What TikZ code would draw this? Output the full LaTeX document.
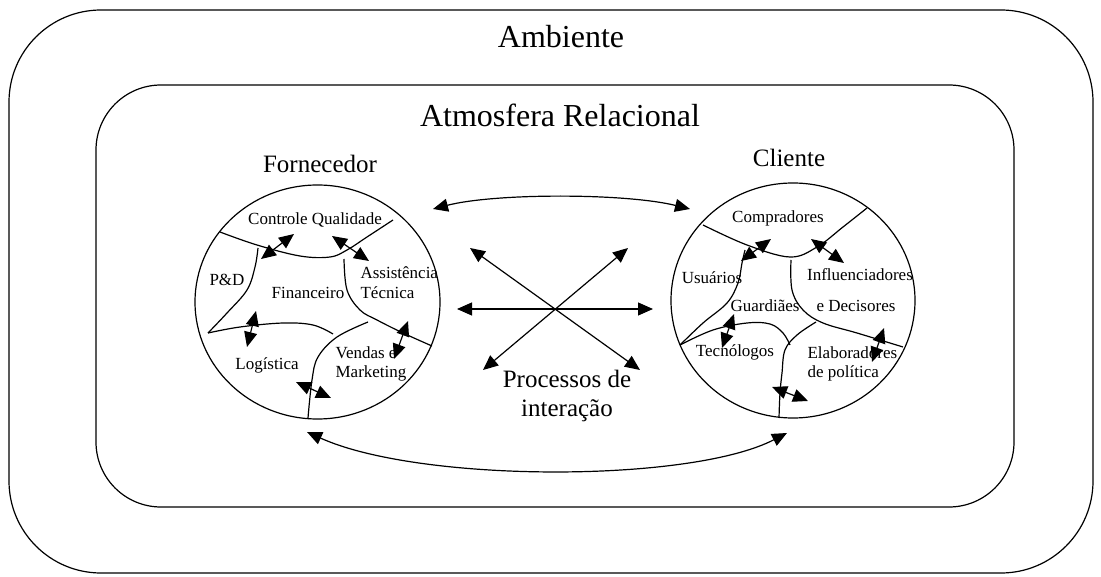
\documentclass[tikz,border=0pt]{standalone}
\usepackage{fontspec}
\setmainfont{Liberation Serif}
\usetikzlibrary{arrows.meta}
\begin{document}
\begin{tikzpicture}[x=1pt,y=-1pt,line width=1.2pt,
  dbl/.style={{Triangle[length=15pt,width=13pt]}-{Triangle[length=15pt,width=13pt]}},
  bigtext/.style={font=\fontsize{32}{36}\selectfont,inner sep=0pt},
  midtext/.style={font=\fontsize{25}{29}\selectfont,inner sep=0pt,align=center},
  smalltext/.style={font=\fontsize{17}{20}\selectfont,inner sep=0pt},
  divider/.style={line width=1.2pt}]
\useasboundingbox (0,0) rectangle (1101,577);

% environment and relational atmosphere frames
\draw[rounded corners=92pt] (9,10) rectangle (1093,573);
\draw[rounded corners=65pt] (96,85) rectangle (1014,507);
\node[bigtext] (amb) at (561,37) {Ambiente};
\node[bigtext] (atm) at (560,115) {Atmosfera Relacional};

% supplier and client
\node[midtext] (forn) at (320,164) {Fornecedor};
\node[midtext] (cli) at (789,158) {Cliente};
\draw (317.5,302) ellipse [x radius=122.5pt, y radius=117pt];
\draw (793,300.5) ellipse [x radius=122pt, y radius=117.5pt];

% supplier departments
\draw[divider] plot[smooth,tension=0.6] coordinates {(220,232) (257,245) (300,256) (330,257) (347,250) (367,237) (393,220)};
\draw[divider] plot[smooth,tension=0.6] coordinates {(258,248) (255,267) (247,290) (227,313) (208,333)};
\draw[divider] plot[smooth,tension=0.6] coordinates {(208,333) (240,327) (283,323) (313,325) (333,334)};
\draw[divider] plot[smooth,tension=0.6] coordinates {(344,259) (347,290) (360,310) (377,320) (403,333) (432,346)};
\draw[divider] plot[smooth,tension=0.6] coordinates {(368,322) (337,337) (318,357) (312,380) (308,418)};

\node[smalltext] (cq) at (315,220) {Controle Qualidade};
\node[smalltext] (pd) at (227,280) {P\&D};
\node[smalltext] (fin) at (308,293) {Financeiro};
\node[smalltext,anchor=west] (ast1) at (360,273) {Assistência};
\node[smalltext,anchor=west] (ast2) at (360,293) {Técnica};
\node[smalltext] (log) at (267,365) {Logística};
\node[smalltext,anchor=west] (ven1) at (335,353) {Vendas e};
\node[smalltext,anchor=west] (ven2) at (335,373) {Marketing};

\coordinate (f1a) at (261,259); \coordinate (f1b) at (294,234);
\coordinate (f2a) at (332,236); \coordinate (f2b) at (369,261);
\coordinate (f3a) at (256,311); \coordinate (f3b) at (247,347);
\coordinate (f4a) at (408,321); \coordinate (f4b) at (394,359);
\coordinate (f5a) at (296,382); \coordinate (f5b) at (331,398);
\foreach \p in {f1,f2,f3,f4,f5} \draw[dbl] (\p a) -- (\p b);

% client roles
\draw[divider] plot[smooth,tension=0.6] coordinates {(703,225) (747,245) (790,257) (817,247) (843,227) (867,208)};
\draw[divider] plot[smooth,tension=0.6] coordinates {(680,345) (703,323) (727,303) (738,283) (742,263) (745,250)};
\draw[divider] plot[smooth,tension=0.6] coordinates {(680,345) (713,330) (747,323) (770,324) (783,333) (790,345)};
\draw[divider] plot[smooth,tension=0.6] coordinates {(791,260) (792,290) (803,310) (823,323) (857,333) (903,347)};
\draw[divider] plot[smooth,tension=0.6] coordinates {(816,322) (797,335) (785,350) (782,373) (780,393) (779,418)};

\node[smalltext] (com) at (778,218) {Compradores};
\node[smalltext] (usu) at (712,278) {Usuários};
\node[smalltext] (inf) at (860,275) {Influenciadores};
\node[smalltext] (gua) at (765,306) {Guardiães};
\node[smalltext] (dec) at (856,306) {e Decisores};
\node[smalltext] (tec) at (735,352) {Tecnólogos};
\node[smalltext,anchor=west] (ela1) at (807,353) {Elaboradores};
\node[smalltext,anchor=west] (ela2) at (807,373) {de política};

\coordinate (c1a) at (741,261); \coordinate (c1b) at (771,239);
\coordinate (c2a) at (811,239); \coordinate (c2b) at (844,263);
\coordinate (c3a) at (734,314); \coordinate (c3b) at (722,348);
\coordinate (c4a) at (884,328); \coordinate (c4b) at (872,362);
\coordinate (c5a) at (772,387); \coordinate (c5b) at (808,401);
\foreach \p in {c1,c2,c3,c4,c5} \draw[dbl] (\p a) -- (\p b);

% interaction processes
\coordinate (ta) at (433,209); \coordinate (tb) at (690,209);
\coordinate (ha) at (457,309); \coordinate (hb) at (653,309);
\coordinate (da) at (470,248); \coordinate (db) at (640,370);
\coordinate (ea) at (628,248); \coordinate (eb) at (483,370);
\coordinate (ba) at (307,432); \coordinate (bb) at (787,433);
\draw[dbl] (ta) .. controls (495,193) and (625,193) .. (tb);
\draw[dbl] (ha) -- (hb);
\draw[dbl] (da) -- (db);
\draw[dbl] (ea) -- (eb);
\draw[dbl] (ba) .. controls (420,483) and (690,483) .. (bb);
\node[midtext] (proc) at (567,396) {Processos de\\interação};
\end{tikzpicture}
\end{document}
